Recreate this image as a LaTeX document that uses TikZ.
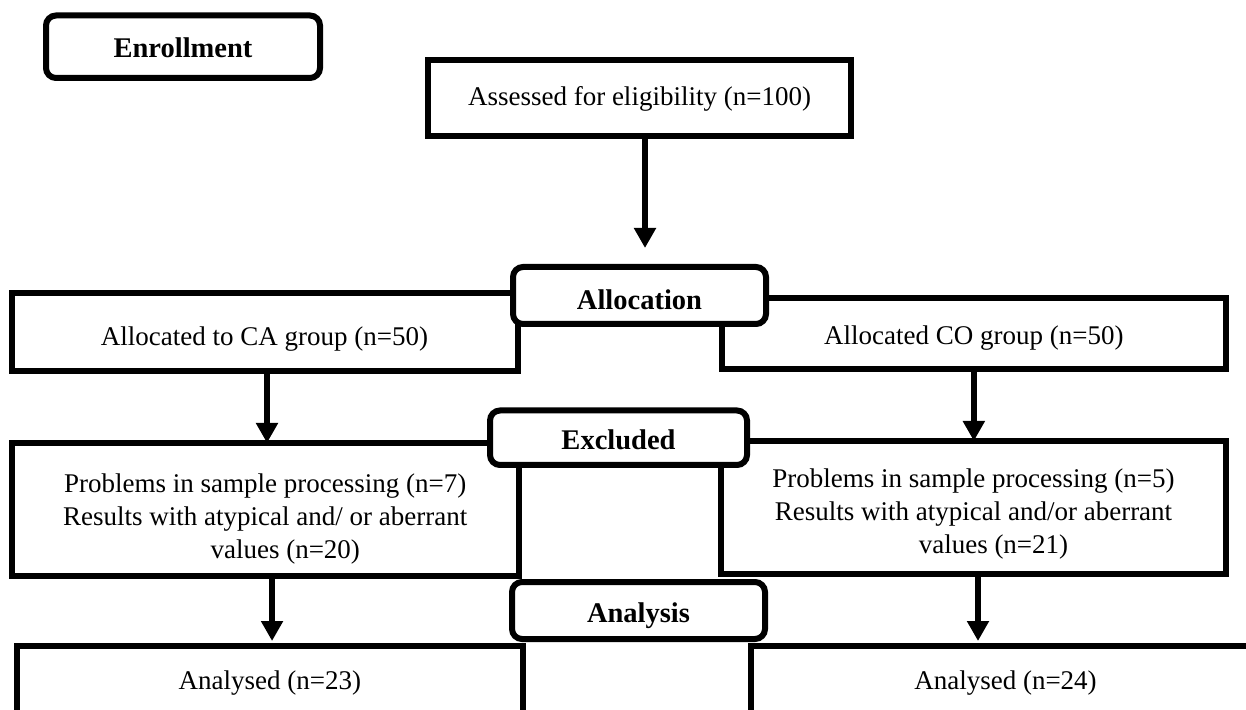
\documentclass[tikz,border=0pt]{standalone}
\usepackage{fontspec}
\setmainfont{Liberation Serif}
\usetikzlibrary{arrows.meta}
\newcommand\lowertxt[2]{\raisebox{-#1}[\height][\depth]{#2}}
\newcommand\lowerlines[2]{\raisebox{-#1}[\height][\depth]{\begin{tabular}{@{}c@{}}#2\end{tabular}}}
\begin{document}
\begin{tikzpicture}[x=0.5pt,y=-0.5pt,
  box/.style={draw, line width=3pt, rectangle, inner sep=0pt, outer sep=0pt, align=center,
    font=\fontsize{13.5}{16.5}\selectfont},
  lab/.style={draw, line width=3pt, rounded corners=5pt, fill=white, inner sep=0pt, outer sep=0pt,
    font=\bfseries\fontsize{14.25}{17}\selectfont},
  arr/.style={line width=3pt, -{Triangle[width=10.5pt,length=10pt]}}]
\useasboundingbox (0,0) rectangle (1246,710);
\clip (0,0) rectangle (1246,710);

% enrollment
\node[lab, minimum width=137pt, minimum height=31.25pt] (enr) at (183,46.75) {\lowertxt{0.5pt}{Enrollment}};
\node[box, line width=3.4pt, minimum width=211.5pt, minimum height=38pt] (as) at (639.5,98) {\lowertxt{0.5pt}{Assessed for eligibility (n=100)}};

% allocation
\node[box, minimum width=253pt, minimum height=38.75pt] (ca) at (264.5,332.25) {\lowertxt{3.5pt}{Allocated to CA group (n=50)}};
\node[box, minimum width=252.15pt, minimum height=35.5pt] (co) at (973.85,333.5) {\lowertxt{2.5pt}{Allocated CO group (n=50)}};
\node[lab, minimum width=126.5pt, minimum height=28.5pt] (alloc) at (639.5,295.5) {\lowertxt{2pt}{Allocation}};

% excluded
\node[box, minimum width=253.75pt, minimum height=66.5pt] (pl) at (265.25,509.5)
  {\lowerlines{4.5pt}{Problems in sample processing (n=7)\\Results with atypical and/ or aberrant\\\hspace*{20pt}values (n=20)}};
\node[box, minimum width=252.5pt, minimum height=66.5pt] (pr) at (973.5,507.5)
  {\lowerlines{3.25pt}{Problems in sample processing (n=5)\\Results with atypical and/or aberrant\\\hspace*{20pt}values (n=21)}};
\node[lab, minimum width=128.5pt, minimum height=27.25pt] (excl) at (618.5,437.75) {\lowertxt{1pt}{Excluded}};

% analysis
\node[box, minimum width=252.85pt, minimum height=37pt] (al) at (269.85,683) {Analysed (n=23)};
\node[box, minimum width=254.5pt, minimum height=37pt] (ar) at (1005.5,683) {Analysed (n=24)};
\node[lab, minimum width=126.5pt, minimum height=28.5pt] (anal) at (638.5,610.5) {\lowertxt{2.5pt}{Analysis}};

% connectors
\coordinate (a1end) at (645,248);
\draw[arr] (as.south -| a1end) -- (a1end);
\draw[arr] ([xshift=1.25pt]ca.south) -- ([xshift=1.25pt]ca.south |- pl.north);
\draw[arr] (co.south) -- (co.south |- pr.north);
\draw[arr, shorten >=2.5pt] ([xshift=3.4pt]pl.south) -- ([xshift=3.4pt]pl.south |- al.north);
\draw[arr, shorten >=2.5pt] ([xshift=2.25pt]pr.south) -- ([xshift=2.25pt]pr.south |- ar.north);
\end{tikzpicture}
\end{document}
